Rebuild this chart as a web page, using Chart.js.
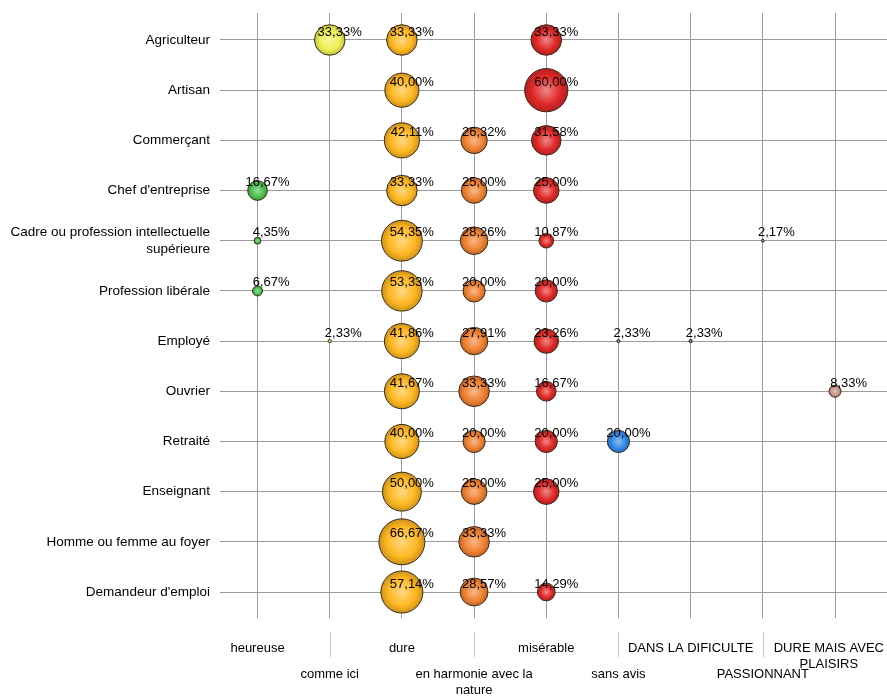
<!DOCTYPE html>
<html>
<head>
<meta charset="utf-8">
<script src="https://cdn.jsdelivr.net/npm/chart.js@4/dist/chart.umd.min.js"></script>
<style>
  body { margin: 0; background: #fff; }
  #wrap { width: 887px; height: 696px; }
</style>
</head>
<body>
<div id="wrap"><canvas id="bubbleChart"></canvas></div>
<script>
// categories along x (answers) and y (professions)
const answers = ["heureuse", "comme ici", "dure", "en harmonie avec la nature", "misérable",
  "sans avis", "DANS LA DIFICULTE", "PASSIONNANT", "DURE MAIS AVEC PLAISIRS"];
const answerLines = [["heureuse"], ["comme ici"], ["dure"], ["en harmonie avec la", "nature"], ["misérable"],
  ["sans avis"], ["DANS LA DIFICULTE"], ["PASSIONNANT"], ["DURE MAIS AVEC", "PLAISIRS"]];
const professions = ["Agriculteur", "Artisan", "Commerçant", "Chef d'entreprise",
  ["Cadre ou profession intellectuelle", "supérieure"], "Profession libérale", "Employé",
  "Ouvrier", "Retraité", "Enseignant", "Homme ou femme au foyer", "Demandeur d'emploi"];

// percentages per answer, one entry per profession (null = none)
const heureuse   = [null, null, null, 16.67, 4.35, 6.67, null, null, null, null, null, null];
const commeIci   = [33.33, null, null, null, null, null, 2.33, null, null, null, null, null];
const dure       = [33.33, 40.00, 42.11, 33.33, 54.35, 53.33, 41.86, 41.67, 40.00, 50.00, 66.67, 57.14];
const harmonie   = [null, null, 26.32, 25.00, 28.26, 20.00, 27.91, 33.33, 20.00, 25.00, 33.33, 28.57];
const miserable  = [33.33, 60.00, 31.58, 25.00, 10.87, 20.00, 23.26, 16.67, 20.00, 25.00, null, 14.29];
const sansAvis   = [null, null, null, null, null, null, 2.33, null, 20.00, null, null, null];
const difficulte = [null, null, null, null, null, null, 2.33, null, null, null, null, null];
const passionnant = [null, null, null, null, 2.17, null, null, null, null, null, null, null];
const durePlaisir = [null, null, null, null, null, null, null, 8.33, null, null, null, null];

const seriesValues = [heureuse, commeIci, dure, harmonie, miserable, sansAvis, difficulte, passionnant, durePlaisir];
const seriesColors = ["#4cbf4c", "#eef052", "#ffb822", "#f08232", "#e02828", "#3088e8", "#707070", "#9060c0", "#c8948a"];

function shade(hex, amt) {
  const n = parseInt(hex.slice(1), 16);
  let r = n >> 16, g = (n >> 8) & 255, b = n & 255;
  if (amt > 0) {
    r += (255 - r) * amt; g += (255 - g) * amt; b += (255 - b) * amt;
  } else {
    r *= 1 + amt; g *= 1 + amt; b *= 1 + amt;
  }
  return `rgb(${Math.round(r)},${Math.round(g)},${Math.round(b)})`;
}

function radiusFor(v) {
  return Math.max(1, 3.22 * Math.sqrt(v) - 3.32);
}

const datasets = seriesValues.map((vals, col) => ({
  label: answers[col],
  data: vals.map((v, row) => (v == null ? null : { x: col, y: row, v: v })).filter((d) => d),
  baseColor: seriesColors[col],
}));

const ballGradient = (c) => {
  const chart = c.chart;
  const base = chart.data.datasets[c.datasetIndex].baseColor;
  if (!c.raw || !chart.scales.x) return base;
  const x = chart.scales.x.getPixelForValue(c.raw.x);
  const y = chart.scales.y.getPixelForValue(c.raw.y);
  const r = radiusFor(c.raw.v);
  if (!isFinite(x) || !isFinite(y)) return base;
  const g = chart.ctx.createRadialGradient(x, y, 0, x, y, r);
  g.addColorStop(0, shade(base, 0.45));
  g.addColorStop(0.65, base);
  g.addColorStop(1, shade(base, -0.2));
  return g;
};

const valueLabels = {
  id: "valueLabels",
  afterDatasetsDraw(chart) {
    const ctx = chart.ctx;
    ctx.save();
    ctx.font = "13px 'Liberation Sans', Arial, sans-serif";
    ctx.fillStyle = "#000";
    ctx.textAlign = "right";
    ctx.textBaseline = "middle";
    chart.data.datasets.forEach((ds, i) => {
      chart.getDatasetMeta(i).data.forEach((el, j) => {
        const v = ds.data[j].v;
        ctx.fillText(v.toFixed(2).replace(".", ",") + "%", el.x + 32, el.y - 8);
      });
    });
    ctx.restore();
  },
};

const answerAxis = {
  id: "answerAxis",
  afterDraw(chart) {
    const ctx = chart.ctx;
    const bottom = chart.chartArea.bottom;
    ctx.save();
    ctx.font = "13px 'Liberation Sans', Arial, sans-serif";
    ctx.fillStyle = "#000";
    ctx.textAlign = "center";
    ctx.textBaseline = "middle";
    answerLines.forEach((lines, i) => {
      const tick = chart.scales.x.getPixelForValue(i);
      // keep the widest line inside the canvas
      const widest = Math.max(...lines.map((t) => ctx.measureText(t).width));
      const x = Math.min(tick, chart.width - widest / 2 - 3);
      const rowY = bottom + (i % 2 === 0 ? 30 : 56);
      lines.forEach((t, k) => ctx.fillText(t, x, rowY + k * 16));
      if (i % 2 === 1) {
        ctx.strokeStyle = "#c8c8c8";
        ctx.lineWidth = 1;
        ctx.beginPath();
        ctx.moveTo(Math.round(tick) + 0.5, bottom + 14);
        ctx.lineTo(Math.round(tick) + 0.5, bottom + 39);
        ctx.stroke();
      }
    });
    ctx.restore();
  },
};

new Chart(document.getElementById("bubbleChart"), {
  type: "bubble",
  data: { datasets: datasets },
  options: {
    responsive: true,
    maintainAspectRatio: false,
    animation: false,
    layout: { padding: { top: 13, left: 0, right: 0, bottom: 0 }, autoPadding: false },
    clip: false,
    elements: {
      point: {
        radius: (c) => (c.raw ? radiusFor(c.raw.v) : 0),
        backgroundColor: ballGradient,
        borderColor: "#3a2a1a",
        borderWidth: 1,
      },
    },
    plugins: { legend: { display: false }, tooltip: { enabled: false } },
    scales: {
      x: {
        type: "linear",
        min: -0.409,
        max: 8.72,
        afterBuildTicks: (s) => { s.ticks = answers.map((_, i) => ({ value: i })); },
        afterFit: (s) => { s.height = 78; s.paddingLeft = 0; s.paddingRight = 0; },
        ticks: { display: false },
        border: { display: false },
        grid: { color: "#9a9a9a", lineWidth: 1, drawTicks: false },
      },
      y: {
        type: "linear",
        reverse: true,
        min: -0.538,
        max: 11.518,
        afterBuildTicks: (s) => { s.ticks = professions.map((_, i) => ({ value: i })); },
        afterFit: (s) => { s.width = 228; s.paddingTop = 0; s.paddingBottom = 0; },
        ticks: {
          callback: (v) => professions[v],
          color: "#000",
          padding: 10,
          font: { family: "'Liberation Sans', Arial, sans-serif", size: 13.5 },
        },
        border: { display: false },
        grid: { color: "#9a9a9a", lineWidth: 1, tickLength: 8 },
      },
    },
  },
  plugins: [valueLabels, answerAxis],
});
</script>
</body>
</html>
